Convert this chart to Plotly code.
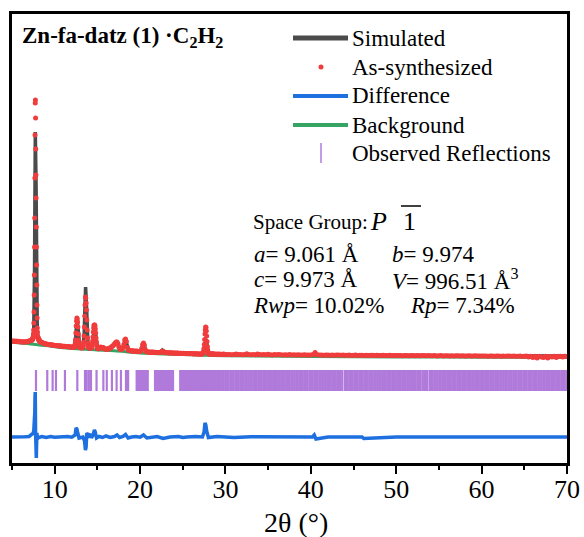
import numpy as np
import plotly.graph_objects as go

# ---------------- data ----------------
# observed intensities (counts) on the measurement grid, segment by segment:
# (first 2theta, last 2theta, values)
obs_segments = [
    (5.0, 7.3, [2900, 2880, 2910, 2870, 2860, 2890, 2850, 2840, 2870, 2830,
                2820, 2800, 2830, 2790, 2800, 2820, 2800, 2830, 2850, 2880,
                2900, 2920, 2950, 2980]),
    (7.32, 8.30, [3000, 3000, 3050, 3050, 3100, 3100, 3150, 3200, 3300, 3400,
                  3600, 4000, 4700, 5800, 7500, 9500, 12300, 15200, 19200, 23500,
                  26700, 27000, 25200, 22100, 19500, 17200, 14300, 12300, 10500, 8500,
                  6500, 5200, 4200, 3800, 3400, 3300, 3250, 3200, 3150, 3100,
                  3050, 3050, 3000, 3000, 2950, 2950, 2900, 2900, 2850, 2850]),
    (8.4, 12.1, [2800, 2750, 2720, 2680, 2650, 2620,
                 2600, 2570, 2580, 2540, 2550, 2510, 2530, 2490, 2500, 2470,
                 2460, 2440, 2460, 2420, 2430, 2400, 2420, 2390, 2400, 2370,
                 2380, 2350, 2370, 2340, 2350, 2320, 2340, 2310, 2320, 2300,
                 2310, 2280]),
    (12.16, 15.16, [2300, 2310, 2290, 2300, 2330, 2400, 2600, 3000, 3700, 4400,
                    4900, 5200, 5100, 4800, 4300, 3600, 3000, 2600, 2400, 2300,
                    2260, 2250, 2230, 2240, 2220, 2230, 2210, 2240, 2280, 2350,
                    2500, 2800, 3400, 4300, 5400, 6500, 7300, 7200, 6700, 6000,
                    5000, 4000, 3200, 2700, 2450, 2300, 2250, 2200, 2210, 2180,
                    2200, 2230, 2200, 2250, 2300, 2400, 2600, 2900, 3300, 3800,
                    4200, 4450, 4500, 4500, 4400, 4100, 3700, 3200, 2800, 2500,
                    2300, 2200, 2150, 2120, 2140, 2130]),
    (15.2, 27.2, [2150, 2250, 2300, 2250, 2200, 2250, 2150, 2100,
                  2080, 2100, 2060, 2150, 2200, 2150, 2250, 2350, 2400, 2500,
                  2600, 2700, 2800, 2800, 2650, 2350, 2150, 2050, 2050, 2150,
                  2250, 2550, 3000, 3100, 2850, 2250, 2000, 1950, 1950, 1930,
                  1900, 1920, 1890, 1880, 1900, 1870, 1890, 1870, 1860, 1850,
                  1840, 1900, 2150, 2550, 2700, 2500, 2050, 1850, 1820, 1800,
                  1790, 1810, 1780, 1800, 1770, 1790, 1780, 1760, 1780, 1760,
                  1750, 1740, 1760, 1740, 1780, 1830, 1880, 1870, 1810, 1750,
                  1730, 1720, 1740, 1710, 1730, 1700, 1720, 1700, 1690, 1710,
                  1690, 1680, 1700, 1670, 1690, 1680, 1660, 1680, 1670, 1650,
                  1650, 1670, 1640, 1660, 1630, 1650, 1660, 1630, 1640, 1620,
                  1640, 1620, 1630, 1610, 1630, 1620, 1600, 1620, 1610, 1600,
                  1600, 1590, 1600]),
    (27.24, 28.2, [1600, 1610, 1630, 1680, 1760, 1900, 2150, 2550, 3050, 3600,
                   4000, 4300, 4250, 3900, 3400, 2850, 2350, 2000, 1800, 1680,
                   1640, 1610, 1590, 1600, 1580]),
    (28.3, 30.0, [1600, 1590, 1650, 1600, 1580, 1610, 1570,
                  1570, 1590, 1560, 1600, 1560, 1580, 1550, 1570, 1590, 1560,
                  1540]),
    (30.25, 70.0, [1540, 1560, 1530, 1550, 1600, 1540, 1560, 1530, 1550, 1620, 1540, 1530,
                   1560, 1530, 1600, 1540, 1520, 1550, 1530, 1580, 1530, 1510, 1540, 1520,
                   1550, 1520, 1510, 1530, 1510, 1540, 1500, 1520, 1500, 1530, 1510, 1490,
                   1520, 1500, 1490, 1510, 1550, 1750, 1520, 1490, 1500, 1480, 1510, 1490,
                   1480, 1500, 1470, 1490, 1500, 1470, 1490, 1480, 1470, 1490, 1460, 1480,
                   1490, 1460, 1480, 1470, 1460, 1480, 1450, 1470, 1480, 1450, 1470, 1460,
                   1450, 1470, 1440, 1460, 1470, 1440, 1460, 1450, 1440, 1460, 1430, 1450,
                   1460, 1430, 1450, 1440, 1430, 1450, 1420, 1440, 1450, 1420, 1440, 1430,
                   1420, 1440, 1410, 1430, 1440, 1410, 1430, 1420, 1410, 1430, 1400, 1420,
                   1430, 1400, 1420, 1410, 1400, 1420, 1390, 1410, 1420, 1390, 1410, 1400,
                   1390, 1410, 1380, 1400, 1410, 1380, 1400, 1390, 1380, 1400, 1370, 1390,
                   1400, 1370, 1390, 1380, 1370, 1390, 1360, 1380, 1390, 1300, 1380, 1250,
                   1380, 1200, 1370, 1300, 1250, 1380, 1200, 1350, 1300, 1380, 1250, 1370,
                   1380, 1300, 1370, 1350]),
]
expected_steps = [0.1, 0.02, 0.1, 0.04, 0.1, 0.04, 0.1, 0.25]
obs_x, obs_y = [], []
for (a, b, vals), st in zip(obs_segments, expected_steps):
    assert len(vals) == int(round((b - a) / st)) + 1, (a, b, len(vals))
    obs_x.extend(np.linspace(a, b, len(vals)))
    obs_y.extend(vals)

# calculated (simulated) profile
sim_x = [5.0, 6.0, 7.0, 7.3, 7.45, 7.55, 7.60, 7.64, 7.67, 7.70,
         7.73, 7.76, 7.79, 7.82, 7.85, 7.88, 7.92, 7.96, 8.05, 8.3,
         9.0, 10.0, 11.0, 12.0, 12.3, 12.45, 12.55, 12.62, 12.7, 12.8,
         12.95, 13.3, 13.45, 13.55, 13.62, 13.7, 13.78, 13.9, 14.05, 14.4,
         14.55, 14.65, 14.75, 14.85, 15.0, 15.5, 16.0, 16.5, 16.9, 17.2,
         17.4, 17.7, 18.0, 18.25, 18.45, 18.7, 19.5, 20.0, 20.35, 20.5,
         20.7, 21.5, 22.3, 22.6, 22.8, 23.0, 25.0, 27.0, 27.4, 27.6,
         27.7, 27.8, 28.0, 30.0, 40.3, 40.5, 40.7, 50.0, 70.0]
sim_y = [2880, 2810, 2800, 2950, 3150, 4200, 6000, 10000, 15000, 20000,
         23800, 22500, 20300, 18500, 14000, 9000, 5500, 4000, 3200, 2850,
         2560, 2420, 2330, 2290, 2330, 3300, 4600, 5100, 4500, 3000,
         2280, 2240, 3500, 6500, 8300, 7000, 4500, 2600, 2200, 2300,
         3500, 4200, 4000, 3000, 2130, 2200, 2080, 2150, 2450, 2750,
         2600, 2050, 2200, 3050, 2600, 1950, 1880, 1840, 2550, 2450,
         1840, 1780, 1750, 2000, 1850, 1730, 1640, 1600, 1680, 2700,
         3100, 2800, 1650, 1540, 1500, 1700, 1500, 1450, 1400]

# background
bg_x = [5, 6, 7, 8, 9, 10, 11, 12, 13, 14, 15, 17, 20, 23, 26, 30, 40, 50, 60, 70]
bg_y = [2780, 2700, 2620, 2520, 2440, 2330, 2230, 2160, 2100, 2060,
        2010, 1920, 1710, 1610, 1520, 1430, 1360, 1310, 1280, 1260]

# difference curve (offset)
diff_x = [5.0, 6.0, 6.5, 7.0, 7.3, 7.45, 7.55, 7.62, 7.67, 7.70,
          7.72, 7.74, 7.76, 7.79, 7.82, 7.85, 7.88, 7.92, 7.97, 8.1,
          8.5, 9.0, 9.5, 10.0, 10.5, 11.0, 11.5, 12.0, 12.4, 12.5,
          12.6, 12.7, 12.85, 13.3, 13.5, 13.6, 13.68, 13.75, 13.85, 14.0,
          14.2, 14.3, 14.5, 14.65, 14.75, 14.9, 15.2, 15.6, 16.0, 16.5,
          17.0, 17.3, 17.6, 18.0, 18.3, 18.6, 19.0, 19.5, 20.0, 20.4,
          20.8, 21.5, 22.0, 22.7, 23.5, 24.5, 25.0, 25.5, 26.5, 27.3,
          27.5, 27.6, 27.7, 27.8, 28.0, 29.0, 30.0, 31.0, 33.0, 36.0,
          38.0, 40.2, 40.4, 40.6, 42.0, 46.0, 46.2, 50.0, 60.0, 70.0]
diff_y = [-6700, -6720, -6680, -6650, -6450, -6350, -6100, -5500, -4200, -2600,
          -2200, -3800, -6200, -7800, -8600, -8800, -7400, -6300, -6900, -6750,
          -6650, -6750, -6650, -6720, -6680, -6700, -6650, -6720, -6500, -5800,
          -5900, -6300, -6800, -6700, -7100, -8000, -7700, -6300, -6400, -6600,
          -6400, -6800, -6500, -6000, -6200, -6800, -6650, -6750, -6600, -6750,
          -6650, -6500, -6750, -6650, -6450, -6800, -6700, -6650, -6720, -6500,
          -6800, -6700, -6650, -6850, -6700, -6650, -6750, -6700, -6650, -6700,
          -6200, -5300, -5500, -6100, -6750, -6650, -6700, -6750, -6680, -6720,
          -6700, -6700, -6500, -6900, -6700, -6700, -6850, -6700, -6700, -6700]

# Bragg reflection positions (2theta)
refl = [7.81, 9.13, 9.76, 10.15, 11.2, 12.65, 13.55, 13.75, 14.0, 14.25, 14.9,
        15.7, 16.1, 16.7, 17.25, 17.76, 18.35, 18.6,
        19.6, 19.72, 19.85, 19.96, 20.1, 20.21, 20.35, 20.5, 20.62, 20.75, 20.9,
        21.75, 21.86, 22.0, 22.12, 22.25, 22.38, 22.52, 22.63, 22.77, 22.88,
        23.02, 23.13, 23.27, 23.38, 23.52, 23.63, 23.77, 23.86,
        24.7, 24.82, 24.95, 25.06, 25.2, 25.31, 25.45, 25.57, 25.7, 25.82,
        25.95, 26.06, 26.2, 26.31, 26.45, 26.56, 26.7, 26.82, 26.95, 27.06,
        27.2, 27.31, 27.45, 27.57, 27.7, 27.82, 27.95, 28.06, 28.2, 28.31,
        28.45, 28.56, 28.7, 28.82, 28.95, 29.06, 29.2, 29.31,
        29.42, 29.61, 29.79, 29.98, 30.18, 30.37, 30.57, 30.76, 30.95,
        31.15, 31.34, 31.53, 31.73, 31.92, 32.11, 32.31, 32.5, 32.69, 32.89,
        33.08, 33.27, 33.47, 33.66, 33.85, 34.05, 34.24, 34.43, 34.63, 34.82,
        35.01, 35.21, 35.4, 35.59, 35.79, 35.98, 36.17, 36.37, 36.56, 36.75, 36.93,
        37.12, 37.31, 37.5, 37.7, 37.89, 38.08, 38.28, 38.47, 38.66, 38.86,
        39.05, 39.24, 39.44, 39.6, 39.82, 40.01, 40.2, 40.4, 40.59, 40.78, 40.98,
        41.17, 41.36, 41.56, 41.75, 41.94, 42.14, 42.33, 42.52, 42.72, 42.91,
        43.1, 43.3, 43.49, 43.68, 43.98, 44.13, 44.32, 44.52, 44.71, 44.9,
        45.1, 45.29, 45.48, 45.68, 45.87, 46.06, 46.26, 46.45, 46.64, 46.84,
        47.03, 47.22, 47.42, 47.61, 47.8, 48.0, 48.19, 48.38, 48.58, 48.77, 48.96,
        49.16, 49.35, 49.54, 49.74, 49.93, 50.12, 50.32, 50.51, 50.7, 50.9,
        51.09, 51.28, 51.48, 51.72, 51.9, 52.09, 52.28, 52.48, 52.67, 52.86,
        53.1, 53.28, 53.47, 53.62, 53.9, 54.06, 54.25, 54.45, 54.64, 54.83,
        55.03, 55.22, 55.41, 55.61, 55.8, 55.99, 56.19, 56.38, 56.57, 56.77, 56.96,
        57.15, 57.35, 57.54, 57.73, 57.93, 58.12, 58.31, 58.51, 58.7, 58.89,
        59.09, 59.28, 59.47, 59.67, 59.86, 60.05, 60.25, 60.44, 60.63, 60.83,
        61.02, 61.21, 61.41, 61.6, 61.79, 61.99, 62.18, 62.37, 62.57, 62.76, 62.95,
        63.15, 63.34, 63.53, 63.73, 63.92, 64.11, 64.31, 64.5, 64.69, 64.89,
        65.08, 65.27, 65.47, 65.66, 65.85, 66.05, 66.24, 66.43, 66.63, 66.82,
        67.01, 67.21, 67.4, 67.59, 67.79, 67.98, 68.17, 68.37, 68.56, 68.75, 68.95,
        69.14, 69.33, 69.53, 69.72, 69.91]
refl_level = -1050

x_ticks = [10, 20, 30, 40, 50, 60, 70]
x_minor = [5, 15, 25, 35, 45, 55, 65]

# ---------------- style ----------------
C_SIM = '#4b4b4b'
C_OBS = '#f03c3c'
C_DIFF = '#1e6fe0'
C_BG = '#36a563'
C_REFL = '#b07adb'
FONT = '"Liberation Serif", "Times New Roman", serif'

W, H = 584, 537
L, R, T, B = 12, 567, 14, 463
def fx(px):
    return (px - L) / (R - L)
def fy(py):
    return (B - py) / (B - T)

fig = go.Figure()
fig.add_trace(go.Scatter(x=refl, y=[refl_level] * len(refl), mode='markers',
                         marker=dict(symbol='line-ns-open', size=15, color=C_REFL,
                                     line=dict(color=C_REFL, width=2.2)),
                         name='Observed Reflections'))
fig.add_trace(go.Scatter(x=diff_x, y=diff_y, mode='lines',
                         line=dict(color=C_DIFF, width=3.5), name='Difference'))
fig.add_trace(go.Scatter(x=bg_x, y=bg_y, mode='lines', line_shape='spline',
                         line=dict(color=C_BG, width=3), name='Background'))
fig.add_trace(go.Scatter(x=sim_x, y=sim_y, mode='lines',
                         line=dict(color=C_SIM, width=3.5), name='Simulated'))
fig.add_trace(go.Scatter(x=obs_x, y=obs_y, mode='markers',
                         marker=dict(color=C_OBS, size=5, line=dict(width=0)),
                         name='As-synthesized'))

shapes = []
annotations = []

def text(px, py, s, size=23, anchor='left'):
    annotations.append(dict(xref='paper', yref='paper', x=fx(px), y=fy(py), text=s,
                            showarrow=False, xanchor=anchor, yanchor='middle',
                            font=dict(family=FONT, size=size, color='black')))

def pline(x0, y0, x1, y1, color, width):
    shapes.append(dict(type='line', xref='paper', yref='paper', x0=fx(x0), x1=fx(x1),
                       y0=fy(y0), y1=fy(y1), line=dict(color=color, width=width)))

# manual legend
pline(293, 38, 348, 38, C_SIM, 5)
shapes.append(dict(type='circle', xref='paper', yref='paper', x0=fx(318.5), x1=fx(323.5),
                   y0=fy(69.5), y1=fy(64.5), fillcolor=C_OBS, line=dict(width=0)))
pline(293, 96, 348, 96, C_DIFF, 4)
pline(293, 125, 348, 125, C_BG, 4)
pline(321, 143, 321, 163, C_REFL, 1.5)
for name, py in [('Simulated', 38), ('As-synthesized', 67), ('Difference', 96),
                 ('Background', 125), ('Observed Reflections', 153)]:
    text(350, py, name)

# title
text(20, 37, '<b>Zn-fa-datz (1) ·C<sub>2</sub>H<sub>2</sub></b>', size=23)

# crystallographic info
text(251, 222, 'Space Group:', size=21)
text(368, 221, '<i>P</i>', size=26)
text(401, 221, '1', size=26)
pline(401, 206, 421, 206, 'black', 1.5)
text(252, 254, '<i>a</i>= 9.061 Å')
text(390, 254, '<i>b</i>= 9.974')
text(252, 279.5, '<i>c</i>= 9.973 Å')
text(390, 279.5, '<i>V</i>= 996.51 Å<sup>3</sup>')
text(251, 305, '<i>Rwp</i>= 10.02%')
text(408, 305, '<i>Rp</i>= 7.34%')

# x-axis title
text(296, 522, '2θ (°)', size=28, anchor='center')

fig.update_layout(
    width=W, height=H, margin=dict(l=L, r=W - R, t=T, b=H - B, autoexpand=False),
    paper_bgcolor='white', plot_bgcolor='white', showlegend=False,
    shapes=shapes, annotations=annotations,
    xaxis=dict(range=[5, 70], showline=True, mirror=True, linecolor='black', linewidth=2.5,
               ticks='outside', ticklen=8, tickwidth=2, tickcolor='black',
               tickvals=x_ticks, ticktext=[str(v) for v in x_ticks],
               tickfont=dict(family=FONT, size=26, color='black'),
               ticklabelstandoff=-7,
               showgrid=False, zeroline=False,
               minor=dict(tickvals=x_minor, ticks='outside', ticklen=4,
                          tickwidth=2, tickcolor='black', showgrid=False)),
    yaxis=dict(range=[-9300, 35600], showline=True, mirror=True, linecolor='black',
               linewidth=2.5, showticklabels=False, ticks='', showgrid=False, zeroline=False),
)

fig.write_html('out.html', config={'displayModeBar': False},
               post_script="document.body.style.margin='0px';document.body.style.overflow='hidden';")
